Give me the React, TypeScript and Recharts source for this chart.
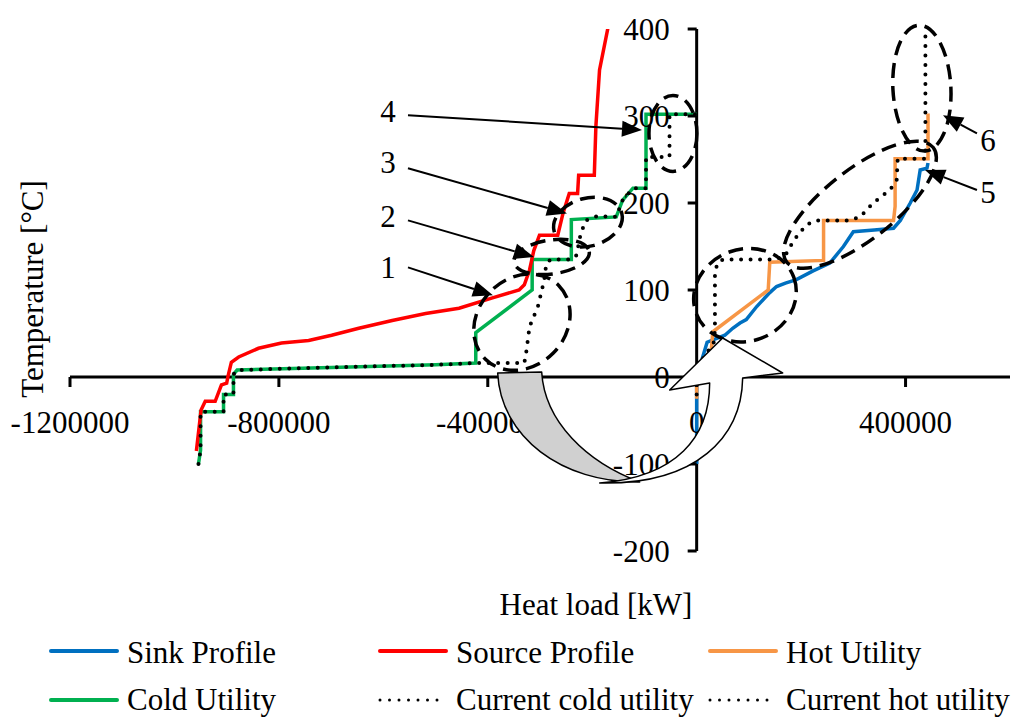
import React from "react";
import { LineChart, Line, XAxis, YAxis, ReferenceLine, ReferenceDot } from "recharts";

const FONT = "'Liberation Serif', 'Times New Roman', serif";

// [heat load kW, temperature °C]
const sourceProfile: [number, number][] = [
  [-958000, -85], [-949000, -38], [-941000, -28], [-922000, -28], [-910000, -9], [-900000, -7],
  [-897000, 2], [-891000, 17], [-877000, 23], [-839000, 33], [-795000, 39], [-743000, 42],
  [-699000, 48], [-647000, 56], [-583000, 65], [-519000, 73], [-455000, 79], [-391000, 91],
  [-340000, 100], [-330000, 106], [-320000, 123], [-312000, 145], [-301000, 163], [-266000, 163],
  [-256000, 188], [-244000, 211], [-228000, 211], [-226000, 232], [-196000, 232], [-193000, 288],
  [-186000, 353], [-170000, 401],
];

const coldUtility: [number, number][] = [
  [-954000, -100], [-950000, -84], [-950000, -40], [-906000, -40], [-906000, -20], [-887000, -20],
  [-887000, 3], [-880000, 8], [-700000, 11], [-500000, 14], [-423000, 16], [-423000, 51],
  [-315000, 100], [-315000, 135], [-240000, 135], [-240000, 181], [-154000, 184], [-142000, 203],
  [-122000, 217], [-97000, 217], [-97000, 302], [0, 302],
];

const currentColdUtility: [number, number][] = [
  [-954000, -100], [-950000, -84], [-950000, -40], [-906000, -40], [-906000, -20], [-887000, -20],
  [-887000, 3], [-880000, 8], [-700000, 11], [-500000, 14], [-423000, 16], [-330000, 16],
  [-326000, 30], [-320000, 58], [-304000, 81], [-292000, 111], [-288000, 130], [-280000, 135],
  [-240000, 135], [-230000, 140], [-222000, 165], [-212000, 180], [-190000, 185], [-154000, 184],
  [-142000, 203], [-122000, 217], [-97000, 217], [-97000, 253], [-52000, 253], [-52000, 302],
  [0, 302],
];

const sinkProfile: [number, number][] = [
  [0, -100], [0, 0], [20000, 40], [54000, 48], [69000, 56], [83000, 62], [95000, 66],
  [115000, 81], [140000, 97], [153000, 104], [170000, 108], [191000, 112], [223000, 122],
  [255000, 131], [281000, 150], [300000, 167], [340000, 169], [377000, 171], [390000, 180],
  [409000, 200], [422000, 215], [428000, 238], [441000, 240], [443000, 246],
];

const hotUtility: [number, number][] = [
  [0, -25], [0, 10], [28000, 31], [31000, 52], [137000, 100], [140000, 132], [243000, 134],
  [243000, 180], [377000, 180], [380000, 196], [380000, 251], [443000, 251], [443000, 303],
];

const currentHotUtility: [number, number][] = [
  [0, -20], [0, 10], [33000, 40], [35000, 54], [35000, 120], [40000, 131], [50000, 135],
  [150000, 135], [170000, 140], [179000, 150], [191000, 161], [210000, 175], [230000, 180],
  [290000, 180], [313000, 184], [338000, 200], [370000, 215], [383000, 226], [385000, 251],
  [438000, 251], [438000, 401],
];

const xTicks = [-1200000, -800000, -400000, 0, 400000];
const yTicks = [-200, -100, 0, 100, 200, 300, 400];

// dashed ellipses around the regions of interest
const ellipses = [
  { x: -334600, y: 63, rx: 52, ry: 44, rot: -45 },
  { x: -277700, y: 138, rx: 38, ry: 17, rot: -8 },
  { x: -208200, y: 178, rx: 35, ry: 24, rot: -15 },
  { x: -45400, y: 280, rx: 24, ry: 38, rot: 0 },
  { x: 312700, y: 198, rx: 93, ry: 35, rot: -38 },
  { x: 431300, y: 332, rx: 29, ry: 63, rot: -3 },
  { x: 92500, y: 94, rx: 52, ry: 46, rot: -20 },
];

const callouts = [
  { n: "1", lx: -591000, ly: 114, from: [-552800, 126], to: [-390100, 94] },
  { n: "2", lx: -591000, ly: 172, from: [-552800, 180], to: [-311600, 138] },
  { n: "3", lx: -591000, ly: 234, from: [-552800, 240], to: [-248400, 188] },
  { n: "4", lx: -591000, ly: 293, from: [-552800, 301], to: [-104700, 284] },
  { n: "5", lx: 557800, ly: 200, from: [536700, 215], to: [437200, 238] },
  { n: "6", lx: 557800, ly: 260, from: [536700, 280], to: [471700, 301] },
];

const legendItems = [
  { name: "Sink Profile", color: "#0070C0", dotted: false },
  { name: "Source Profile", color: "#FF0000", dotted: false },
  { name: "Hot Utility", color: "#F79646", dotted: false },
  { name: "Cold Utility", color: "#00B050", dotted: false },
  { name: "Current cold utility", color: "#000", dotted: true },
  { name: "Current hot utility", color: "#000", dotted: true },
];

const pts = (arr: [number, number][]) => arr.map(([x, y]) => ({ x, y }));

function Arrow(p: any) {
  const { x1, y1, x2, y2 } = p;
  const dx = x2 - x1, dy = y2 - y1;
  const len = Math.sqrt(dx * dx + dy * dy);
  const ux = dx / len, uy = dy / len;
  const hl = 20, hw = 8;
  const bx = x2 - ux * hl, by = y2 - uy * hl;
  return (
    <g>
      <line x1={x1} y1={y1} x2={bx} y2={by} stroke="#000" strokeWidth={2} />
      <polygon
        points={`${x2},${y2} ${bx - uy * hw},${by + ux * hw} ${bx + uy * hw},${by - ux * hw}`}
        fill="#000"
      />
    </g>
  );
}

function CurvedArrow({ cx, cy }: any) {
  return (
    <g transform={`translate(${cx},${cy})`} stroke="#000" strokeWidth={1.5} strokeLinejoin="round">
      <path d="M -199,-4 C -196,60 -135,106 -57,105 C -110,85 -152,45 -155,-5 Z" fill="#D0D0D0" />
      <path
        d="M -97,106 C 0,108 45,60 46,1 L 86,-4 L 26,-39 L -27,13 L 13,6 C 13,60 -20,100 -97,106 Z"
        fill="#fff"
      />
    </g>
  );
}

export default function App() {
  const txt = { fontFamily: FONT, fontSize: 31, fill: "#000" };
  return (
    <div style={{ position: "absolute", left: 0, top: 0, width: 1014, height: 718, background: "#fff" }}>
      <LineChart width={1014} height={718} margin={{ top: 29, right: 4, bottom: 167, left: 70 }}>
        <XAxis dataKey="x" type="number" domain={[-1200000, 600000]} allowDataOverflow hide />
        <YAxis dataKey="y" type="number" domain={[-200, 400]} allowDataOverflow hide />

        {/* axes crossing at the origin */}
        <ReferenceLine y={0} stroke="#000" strokeWidth={3} />
        <ReferenceLine x={0} stroke="#000" strokeWidth={3} />
        {xTicks.map((v) => (
          <ReferenceDot
            key={`xt${v}`}
            x={v}
            y={0}
            r={0}
            shape={({ cx, cy }: any) => (
              <g>
                <line x1={cx} y1={cy} x2={cx} y2={cy + 10} stroke="#000" strokeWidth={3} />
                <text x={cx} y={cy + 56} textAnchor="middle" {...txt}>{v}</text>
              </g>
            )}
          />
        ))}
        {yTicks.map((v) => (
          <ReferenceDot
            key={`yt${v}`}
            x={0}
            y={v}
            r={0}
            shape={({ cx, cy }: any) => (
              <g>
                <line x1={cx - 9} y1={cy} x2={cx} y2={cy} stroke="#000" strokeWidth={3} />
                <text x={cx - 27} y={cy + 11} textAnchor="end" {...txt}>{v}</text>
              </g>
            )}
          />
        ))}

        <Line data={pts(sinkProfile)} dataKey="y" type="linear" stroke="#0070C0" strokeWidth={3.5} dot={false} isAnimationActive={false} />
        <Line data={pts(hotUtility)} dataKey="y" type="linear" stroke="#F79646" strokeWidth={3.5} dot={false} isAnimationActive={false} />
        <Line data={pts(coldUtility)} dataKey="y" type="linear" stroke="#00B050" strokeWidth={3.5} dot={false} isAnimationActive={false} />
        <Line data={pts(sourceProfile)} dataKey="y" type="linear" stroke="#FF0000" strokeWidth={3.5} dot={false} isAnimationActive={false} />
        <Line data={pts(currentColdUtility)} dataKey="y" type="linear" stroke="#000" strokeWidth={4} strokeDasharray="0 9.5" strokeLinecap="round" dot={false} isAnimationActive={false} />
        <Line data={pts(currentHotUtility)} dataKey="y" type="linear" stroke="#000" strokeWidth={4} strokeDasharray="0 9.5" strokeLinecap="round" dot={false} isAnimationActive={false} />

        {ellipses.map((e, i) => (
          <ReferenceDot
            key={`el${i}`}
            x={e.x}
            y={e.y}
            r={0}
            shape={({ cx, cy }: any) => (
              <ellipse
                cx={cx}
                cy={cy}
                rx={e.rx}
                ry={e.ry}
                transform={`rotate(${e.rot} ${cx} ${cy})`}
                fill="none"
                stroke="#000"
                strokeWidth={3.5}
                strokeDasharray="15 8"
              />
            )}
          />
        ))}
        {callouts.map((c) => (
          <ReferenceLine
            key={`ar${c.n}`}
            segment={[{ x: c.from[0], y: c.from[1] }, { x: c.to[0], y: c.to[1] }]}
            shape={Arrow}
          />
        ))}
        {callouts.map((c) => (
          <ReferenceDot
            key={`lb${c.n}`}
            x={c.lx}
            y={c.ly}
            r={0}
            shape={({ cx, cy }: any) => (
              <text x={cx} y={cy} textAnchor="middle" {...txt}>{c.n}</text>
            )}
          />
        ))}
        <ReferenceDot x={0} y={0} r={0} shape={CurvedArrow} />
      </LineChart>

      {/* axis titles and legend */}
      <svg width={1014} height={718} style={{ position: "absolute", left: 0, top: 0, pointerEvents: "none" }}>
        <text x={596} y={615} textAnchor="middle" {...txt}>Heat load [kW]</text>
        <text x={0} y={0} transform="translate(43,289) rotate(-90)" textAnchor="middle" {...txt}>
          Temperature [°C]
        </text>
        {legendItems.map((it, i) => {
          const col = i % 3;
          const row = Math.floor(i / 3);
          const x0 = [49, 378, 708][col];
          const ly = row === 0 ? 651 : 700;
          const ty = row === 0 ? 663 : 710;
          return (
            <g key={it.name}>
              <line
                x1={x0 + 2}
                y1={ly}
                x2={x0 + 68}
                y2={ly}
                stroke={it.color}
                strokeWidth={it.dotted ? 3 : 4}
                strokeLinecap="round"
                strokeDasharray={it.dotted ? "0 9.5" : undefined}
              />
              <text x={x0 + 78} y={ty} {...txt}>{it.name}</text>
            </g>
          );
        })}
      </svg>
    </div>
  );
}
